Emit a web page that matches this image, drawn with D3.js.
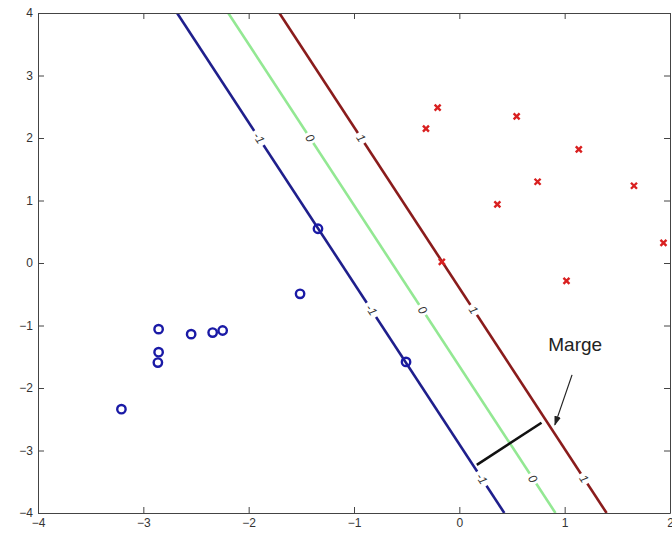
<!DOCTYPE html>
<html>
<head>
<meta charset="utf-8">
<script src="https://cdn.jsdelivr.net/npm/d3@7"></script>
<style>
  body { margin: 0; background: #fff; }
  svg { display: block; font-family: "Liberation Sans", Arial, sans-serif; }
</style>
</head>
<body>
<div id="chart"></div>
<script>
// data
const negPoints = [
  [-2.855, -1.058], [-2.546, -1.138], [-2.342, -1.113], [-2.247, -1.080],
  [-2.855, -1.427], [-2.862, -1.593], [-3.208, -2.339], [-0.506, -1.582],
  [-1.342, 0.548], [-1.512, -0.493]
];
const posPoints = [
  [-0.206, 2.485], [-0.317, 2.149], [0.544, 2.346], [1.134, 1.818],
  [0.743, 1.300], [0.361, 0.937], [1.658, 1.236], [1.938, 0.323],
  [-0.166, 0.019], [1.017, -0.285]
];
const weights = [2.06, 0.80];
const bias = 1.32;
const levels = [-1, 0, 1];
const levelLabels = ["-1", "0", "1"];
const levelColors = ["#1f1f8c", "#93e893", "#8a1c1c"];
const labelYs = [2.0, -0.75, -3.45];
const xTicks = [-4, -3, -2, -1, 0, 1, 2];
const yTicks = [-4, -3, -2, -1, 0, 1, 2, 3, 4];
const marginSeg = [[0.166, -3.23], [0.78, -2.556]];
const arrowSeg = [[1.07, -1.79], [0.907, -2.59]];
const annText = { x: 1.1, y: -1.4, text: "Marge" };

const margin = { top: 13, right: 2, bottom: 20, left: 38 };
const W = 672, H = 533;
const width = W - margin.left - margin.right;
const height = H - margin.top - margin.bottom;

const root = d3.select("#chart").append("svg")
  .attr("width", W).attr("height", H);

const defs = root.append("defs");
defs.append("clipPath").attr("id", "clip")
  .append("rect").attr("width", width).attr("height", height);
defs.append("marker")
  .attr("id", "arrow").attr("viewBox", "0 0 10 10")
  .attr("refX", 9).attr("refY", 5)
  .attr("markerWidth", 8).attr("markerHeight", 8)
  .attr("orient", "auto")
  .append("path").attr("d", "M0,1.5L10,5L0,8.5Z").attr("fill", "#222");

const svg = root.append("g").attr("transform", `translate(${margin.left},${margin.top})`);

const x = d3.scaleLinear().domain([-4, 2]).range([0, width]);
const y = d3.scaleLinear().domain([-4, 4]).range([height, 0]);

// x position on a contour level for a given y
const xOn = (lev, yy) => (lev - bias - weights[1] * yy) / weights[0];

const plot = svg.append("g").attr("clip-path", "url(#clip)");

// contour lines
levels.forEach((lev, i) => {
  const [y0, y1] = y.domain();
  plot.append("line")
    .attr("x1", x(xOn(lev, y1))).attr("y1", y(y1))
    .attr("x2", x(xOn(lev, y0))).attr("y2", y(y0))
    .attr("stroke", levelColors[i])
    .attr("stroke-width", 2.6);
});

// angle of the lines in pixel space
const dx = x(xOn(0, -4)) - x(xOn(0, 4));
const dy = y(-4) - y(4);
const angle = Math.atan2(dy, dx) * 180 / Math.PI;

// contour labels
levels.forEach((lev, i) => {
  labelYs.forEach(ly => {
    const px = x(xOn(lev, ly)), py = y(ly);
    const g = plot.append("g").attr("transform", `translate(${px},${py}) rotate(${angle})`);
    const gap = levelLabels[i].length > 1 ? 17 : 12;
    g.append("rect")
      .attr("x", -gap / 2).attr("y", -4).attr("width", gap).attr("height", 8)
      .attr("fill", "#fff");
    g.append("text")
      .attr("text-anchor", "middle").attr("dy", "0.35em")
      .attr("font-size", 12).attr("font-style", "italic")
      .attr("fill", "#333")
      .text(levelLabels[i]);
  });
});

// negative class: circles
plot.selectAll("circle.neg").data(negPoints).enter().append("circle")
  .attr("class", "neg")
  .attr("cx", d => x(d[0])).attr("cy", d => y(d[1]))
  .attr("r", 4.2)
  .attr("fill", "none").attr("stroke", "#1a1aa6").attr("stroke-width", 2.4);

// positive class: crosses
const s = 3;
plot.selectAll("path.pos").data(posPoints).enter().append("path")
  .attr("class", "pos")
  .attr("d", d => {
    const cx = x(d[0]), cy = y(d[1]);
    return `M${cx - s},${cy - s}L${cx + s},${cy + s}M${cx - s},${cy + s}L${cx + s},${cy - s}`;
  })
  .attr("stroke", "#d92020").attr("stroke-width", 2.4).attr("fill", "none");

// margin segment
svg.append("line")
  .attr("x1", x(marginSeg[0][0])).attr("y1", y(marginSeg[0][1]))
  .attr("x2", x(marginSeg[1][0])).attr("y2", y(marginSeg[1][1]))
  .attr("stroke", "#111").attr("stroke-width", 2.6);

// annotation arrow
svg.append("line")
  .attr("x1", x(arrowSeg[0][0])).attr("y1", y(arrowSeg[0][1]))
  .attr("x2", x(arrowSeg[1][0])).attr("y2", y(arrowSeg[1][1]))
  .attr("stroke", "#222").attr("stroke-width", 1.2)
  .attr("marker-end", "url(#arrow)");

svg.append("text")
  .attr("x", x(annText.x)).attr("y", y(annText.y))
  .attr("text-anchor", "middle")
  .attr("font-size", 19).attr("fill", "#222")
  .text(annText.text);

// axes, MATLAB style box with inward ticks
const tickLen = 6;
const axisColor = "#444";
const fmt = d3.format("d");
const styleAxis = g => {
  g.select(".domain").attr("stroke", axisColor);
  g.selectAll(".tick line").attr("stroke", axisColor);
  g.selectAll(".tick text").attr("fill", "#333").attr("font-size", 12)
    .attr("font-family", "Liberation Sans, Arial, sans-serif");
};

svg.append("g").attr("transform", `translate(0,${height})`)
  .call(d3.axisBottom(x).tickValues(xTicks).tickFormat(fmt).tickSizeInner(-tickLen).tickSizeOuter(0).tickPadding(5))
  .call(styleAxis);
svg.append("g")
  .call(d3.axisLeft(y).tickValues(yTicks).tickFormat(fmt).tickSizeInner(-tickLen).tickSizeOuter(0).tickPadding(5))
  .call(styleAxis);
svg.append("g")
  .call(d3.axisTop(x).tickValues(xTicks).tickSizeInner(-tickLen).tickSizeOuter(0).tickFormat(""))
  .call(styleAxis);
svg.append("g").attr("transform", `translate(${width},0)`)
  .call(d3.axisRight(y).tickValues(yTicks).tickSizeInner(-tickLen).tickSizeOuter(0).tickFormat(""))
  .call(styleAxis);
</script>
</body>
</html>
